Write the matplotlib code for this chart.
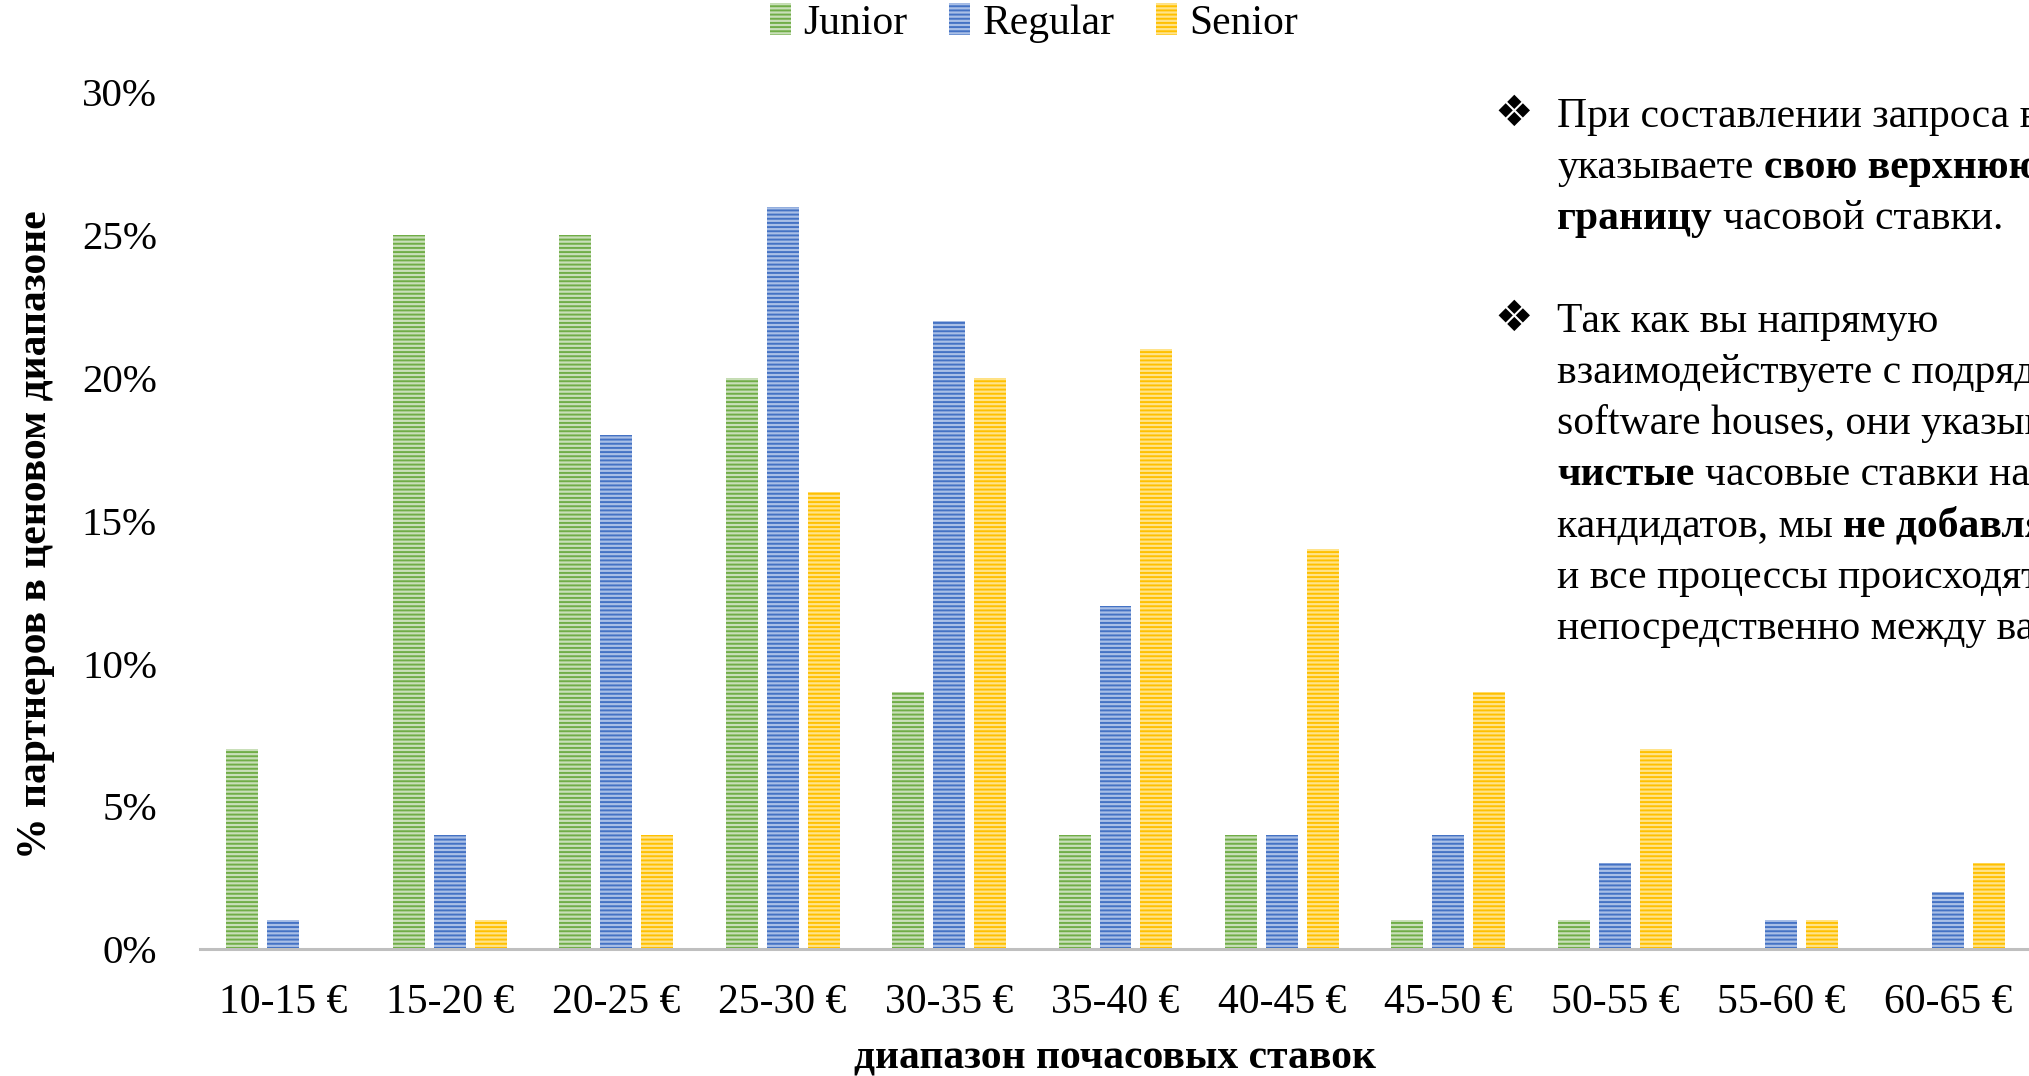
import matplotlib
matplotlib.use("Agg")
import matplotlib.pyplot as plt
import numpy as np
from matplotlib.patches import Patch

# Данные
categories = ['10-15 €', '15-20 €', '20-25 €', '25-30 €', '30-35 €', '35-40 €',
              '40-45 €', '45-50 €', '50-55 €', '55-60 €', '60-65 €']
junior = [7, 25, 25, 20, 9, 4, 4, 1, 1, 0, 0]
regular = [1, 4, 18, 26, 22, 12, 4, 4, 3, 1, 2]
senior = [0, 1, 4, 16, 20, 21, 14, 9, 7, 1, 3]
series_names = ['Junior', 'Regular', 'Senior']
y_ticks = [0, 5, 10, 15, 20, 25, 30]

# заметка справа: (текст, жирный); правый край обрезан, как в оригинале
note_lines = [
    [('При составлении запроса вы', False)],
    [('указываете', False), ('свою верхнюю', True)],
    [('границу', True), ('часовой ставки.', False)],
    [],
    [('Так как вы напрямую', False)],
    [('взаимодействуете с подрядчиками', False)],
    [('software houses, они указывают', False)],
    [('чистые', True), ('часовые ставки на', False)],
    [('кандидатов, мы', False), ('не добавляем', True)],
    [('и все процессы происходят', False)],
    [('непосредственно между вами.', False)],
]
bullet_rows = [0, 4]

# (основной цвет, светлый цвет полосок)
colors = [('#70AD47', '#C9DFB9'), ('#4472C4', '#A9BFE6'), ('#FFC000', '#FFE38A')]

plt.rcParams['font.family'] = ['Liberation Serif', 'DejaVu Sans']
plt.rcParams['hatch.linewidth'] = 1.4

W, H = 2029, 1076
fig = plt.figure(figsize=(W / 100, H / 100), dpi=100)
ax = fig.add_axes([200 / W, (H - 949) / H, 1831 / W, (949 - 92.5) / H])

x = np.arange(len(categories))
width = 0.192
step = 0.246
for i, (vals, name) in enumerate(zip([junior, regular, senior], series_names)):
    dark, light = colors[i]
    ax.bar(x + (i - 1) * step, vals, width, facecolor=light, edgecolor=dark,
           linewidth=0, hatch='----', label=name)

ax.set_xlim(-0.5, len(categories) - 0.5)
ax.set_ylim(0, 30)
ax.set_xticks(x)
ax.set_xticklabels(categories, fontsize=30)
ax.set_yticks(y_ticks)
ax.set_yticklabels([f'{v}%' for v in y_ticks], fontsize=29.5)
ax.tick_params(axis='both', length=0)
ax.tick_params(axis='x', pad=25)
ax.tick_params(axis='y', pad=31)
for s in ['top', 'right', 'left']:
    ax.spines[s].set_visible(False)
ax.spines['bottom'].set_color('#BFBFBF')
ax.spines['bottom'].set_linewidth(2.2)

fig.text(1115 / W, 1 - 1058 / H, 'диапазон почасовых ставок', fontsize=30,
         fontweight='bold', ha='center', va='center')
fig.text(36 / W, 1 - 535 / H, '% партнеров в ценовом диапазоне', fontsize=30,
         fontweight='bold', ha='center', va='center', rotation=90)

handles = [Patch(facecolor=colors[i][1], edgecolor=colors[i][0], linewidth=0,
                 hatch='----', label=series_names[i]) for i in range(3)]
fig.legend(handles=handles, loc='center', bbox_to_anchor=(1034 / W, 1 - 23 / H),
           ncol=3, frameon=False, fontsize=30, handlelength=0.5, handleheight=0.8,
           handletextpad=0.3, columnspacing=1.0)

# текст заметки
renderer = fig.canvas.get_renderer()
fs = 30
gap = fs * 100 / 72 * 0.25
x0 = 1557
y0 = 127
line_h = 51.2
for row, segs in enumerate(note_lines):
    yb = y0 + row * line_h
    if row in bullet_rows:
        fig.text(1514 / W, 1 - (yb - 13) / H, '❖', fontsize=31, ha='center',
                 va='center', family=['DejaVu Sans'])
    xp = x0
    for text, bold in segs:
        t = fig.text(xp / W, 1 - yb / H, text, fontsize=fs, va='baseline',
                     fontweight='bold' if bold else 'normal')
        bb = t.get_window_extent(renderer)
        xp = bb.x1 + gap

fig.savefig('out.png', dpi=100)
